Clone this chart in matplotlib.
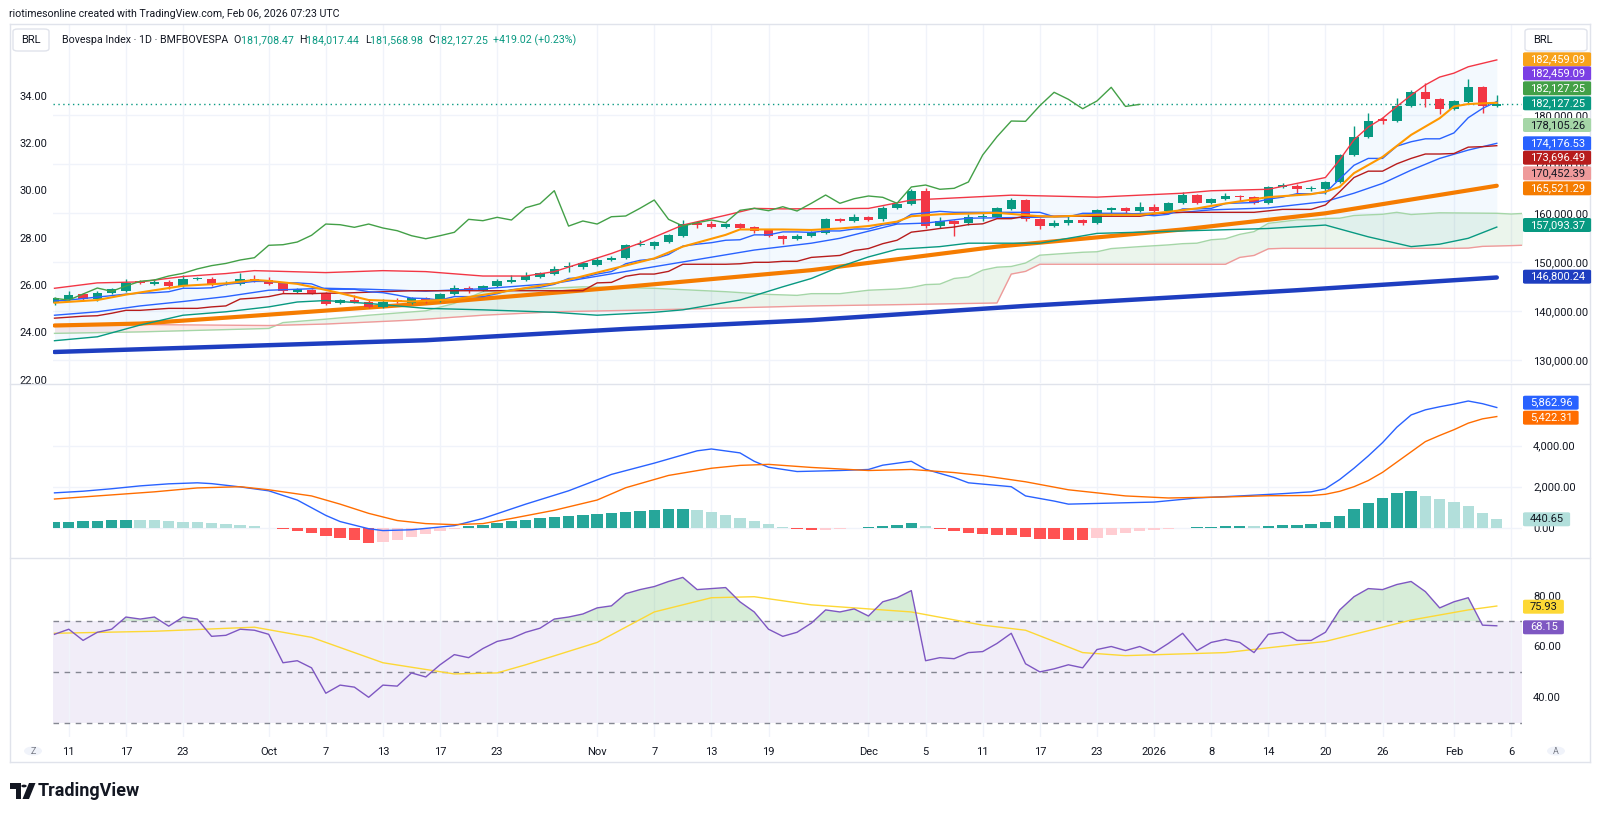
import numpy as np
import matplotlib
matplotlib.use("Agg")
import matplotlib.pyplot as plt
from matplotlib.patches import FancyBboxPatch, Circle, Polygon
from matplotlib.lines import Line2D

plt.rcParams['font.family'] = ['Roboto', 'DejaVu Sans']

# ---------------- data ----------------
date_labels = ['11', '17', '23', 'Oct', '7', '13', '17', '23', 'Nov', '7', '13', '19',
               'Dec', '5', '11', '17', '23', '2026', '8', '14', '20', '26', 'Feb', '6']
date_bars = [1, 5, 9, 15, 19, 23, 27, 31, 38, 42, 46, 50, 57, 61, 65, 69, 73, 77, 81, 85, 89, 93, 98, 102]

# daily candles, thousands of points (Sep 10 2025 .. Feb 5 2026)
opens = [141.53, 142.35, 143.37, 142.35, 143.71, 144.04, 146.02, 145.41, 145.94, 145.12,
         146.43, 146.55, 145.47, 145.47, 146.43, 146.29, 145.61, 143.90, 144.24, 143.69,
         141.53, 142.20, 141.80, 140.84, 142.20, 141.53, 142.69, 142.02, 143.43, 144.65,
         144.27, 145.00, 145.82, 146.35, 146.92, 147.51, 148.88, 148.86, 149.41, 150.43,
         150.71, 153.37, 153.22, 154.04, 155.33, 157.86, 157.71, 157.10, 157.71, 157.04,
         156.49, 155.33, 154.71, 155.27, 155.82, 158.73, 158.39, 159.08, 158.67, 161.04,
         161.73, 164.51, 157.29, 158.39, 157.86, 159.08, 159.20, 160.71, 162.55, 158.73,
         157.31, 157.86, 158.53, 157.98, 160.51, 160.98, 160.43, 161.24, 160.43, 161.94,
         163.63, 161.94, 162.82, 163.49, 163.16, 161.94, 165.20, 165.53, 164.80, 164.80,
         166.35, 171.80, 175.53, 179.08, 178.73, 181.86, 184.59, 183.16, 181.24, 182.67,
         185.61, 181.708]
highs = [142.90, 144.04, 143.60, 144.10, 144.71, 146.49, 146.30, 146.57, 146.20, 147.24,
         146.90, 146.80, 146.14, 147.65, 147.30, 146.82, 145.90, 144.73, 144.50, 143.90,
         142.50, 143.22, 142.33, 142.33, 142.55, 142.80, 142.90, 143.70, 145.27, 145.06,
         145.30, 146.43, 147.31, 147.98, 147.98, 149.16, 149.96, 149.90, 150.98, 151.10,
         153.60, 154.45, 154.30, 155.60, 158.53, 158.10, 158.39, 157.95, 157.95, 157.30,
         156.70, 155.50, 155.60, 156.30, 158.90, 159.00, 159.76, 159.30, 161.30, 162.10,
         164.80, 165.00, 159.20, 158.60, 159.76, 160.22, 161.24, 163.08, 162.80, 158.90,
         158.53, 159.55, 158.70, 160.80, 161.10, 161.20, 162.20, 161.80, 162.20, 164.18,
         163.90, 163.10, 164.10, 163.70, 163.40, 165.50, 166.14, 165.80, 165.47, 166.50,
         172.00, 177.71, 180.43, 179.61, 183.37, 185.06, 186.43, 183.49, 183.00, 187.24,
         185.80, 184.017]
lows = [141.20, 142.10, 142.00, 142.10, 143.50, 143.80, 145.40, 145.20, 144.39, 144.90,
        146.20, 145.10, 145.30, 145.30, 145.88, 145.20, 143.71, 143.70, 143.40, 141.10,
        141.30, 141.60, 140.50, 140.60, 141.60, 141.30, 141.67, 141.73, 143.20, 143.70,
        144.00, 144.80, 145.60, 146.10, 146.70, 147.30, 147.86, 148.60, 149.20, 150.20,
        150.50, 153.20, 152.55, 153.80, 155.10, 156.84, 156.80, 156.84, 156.70, 155.94,
        155.10, 153.63, 154.50, 155.00, 155.60, 158.20, 158.20, 158.30, 158.40, 160.80,
        161.50, 157.00, 157.00, 155.27, 157.60, 158.39, 159.00, 160.50, 158.40, 156.63,
        157.10, 157.60, 157.51, 157.70, 159.55, 159.76, 160.20, 160.10, 160.20, 161.70,
        161.70, 161.70, 162.60, 162.41, 161.70, 161.70, 165.00, 164.10, 164.45, 163.84,
        166.10, 171.60, 175.30, 178.12, 178.50, 181.60, 181.65, 180.16, 181.00, 182.40,
        180.43, 181.569]
closes = [142.55, 143.29, 142.35, 143.69, 144.39, 145.67, 145.61, 145.94, 145.06, 146.49,
          146.63, 145.33, 145.73, 146.49, 146.08, 145.47, 143.98, 144.39, 143.69, 141.39,
          142.20, 141.80, 140.71, 141.86, 141.86, 142.55, 142.20, 143.43, 144.65, 143.98,
          145.06, 146.02, 146.29, 147.10, 147.65, 148.55, 149.22, 149.67, 150.37, 150.84,
          153.37, 153.49, 154.04, 155.41, 157.71, 157.57, 157.04, 157.71, 156.90, 156.35,
          155.33, 154.71, 155.33, 156.02, 158.67, 158.39, 159.08, 158.53, 161.04, 161.86,
          164.51, 157.29, 158.33, 157.71, 159.20, 159.35, 160.92, 162.61, 158.67, 157.31,
          157.98, 158.53, 157.98, 160.51, 160.92, 160.43, 161.24, 160.37, 161.94, 163.63,
          161.94, 162.88, 163.43, 163.16, 161.94, 165.27, 165.67, 164.80, 165.00, 166.29,
          171.80, 175.53, 178.73, 178.67, 181.86, 184.59, 183.16, 181.24, 182.82, 185.61,
          181.708, 182.127]

# Ichimoku conversion / base lines (per bar, thousands)
conv = [142.0, 142.2, 142.5, 142.8, 143.1, 143.4, 143.6, 143.7, 143.9, 144.6,
        144.6, 144.7, 145.4, 145.7, 146.0, 146.0, 145.7, 145.7, 145.5, 144.4,
        144.4, 144.4, 143.9, 143.7, 143.2, 142.6, 142.5, 142.2, 142.9, 142.9,
        142.9, 143.5, 144.3, 144.6, 144.8, 145.4, 146.6, 146.8, 147.5, 148.0,
        149.6, 150.3, 150.6, 151.5, 153.2, 153.6, 153.9, 154.4, 154.5, 155.5,
        155.5, 156.1, 156.1, 156.0, 156.3, 156.3, 156.7, 156.7, 157.5, 157.9,
        159.7, 160.0, 160.3, 160.1, 160.1, 160.1, 160.1, 160.1, 160.1, 160.1,
        159.2, 159.2, 159.9, 159.9, 159.9, 159.9, 159.7, 159.4, 159.7, 160.8,
        160.8, 160.9, 161.9, 162.0, 162.1, 162.8, 163.2, 163.9, 163.9, 164.1,
        166.9, 169.7, 171.1, 171.1, 173.6, 174.5, 175.1, 175.1, 176.3, 179.4,
        181.3, 182.7]
base = [138.5, 138.7, 138.9, 139.0, 139.5, 140.1, 140.1, 140.3, 140.5, 140.5,
        140.5, 140.8, 141.0, 142.4, 142.6, 142.9, 143.5, 143.5, 143.5, 143.6,
        143.6, 143.7, 143.8, 143.9, 144.0, 144.1, 144.1, 144.1, 144.1, 144.1,
        144.1, 144.1, 144.1, 144.1, 144.1, 144.1, 144.1, 144.1, 145.7, 145.8,
        147.05, 147.5, 147.5, 148.05, 149.5, 149.5, 149.5, 149.5, 149.6, 149.9,
        149.9, 150.1, 150.1, 150.9, 151.1, 151.3, 152.3, 152.7, 153.7, 154.4,
        156.05, 156.4, 156.8, 157.1, 157.6, 157.75, 158.8, 158.8, 159.3, 159.3,
        159.3, 159.3, 159.3, 159.3, 159.3, 159.3, 159.3, 159.75, 160.0, 160.1,
        160.1, 160.1, 160.1, 160.1, 160.1, 160.4, 160.7, 160.7, 160.7, 161.6,
        164.3, 167.2, 168.5, 168.5, 170.0, 171.1, 172.0, 172.0, 172.1, 173.4,
        173.5, 173.7]

# leading spans (bar position, thousands) - already displaced forward
span_a_x = [0, 6, 15, 16, 19, 22, 26, 28, 30, 33, 37, 42, 47, 50, 52, 53, 55, 57, 59, 60,
            61, 62, 63, 64, 65, 66, 67, 68, 69, 70, 72, 73, 74, 76, 78, 79, 80, 81, 82, 83,
            84, 85, 86, 87, 88, 89, 90, 91, 93, 94, 95, 97, 101, 102, 103]
span_a = [135.4, 135.7, 136.4, 137.6, 138.3, 139.1, 140.0, 141.5, 143.9, 144.4,
          144.9, 144.6, 143.9, 143.35, 143.15, 143.5, 143.5, 144.2, 144.45, 144.75,
          145.35, 145.45, 146.6, 146.9, 148.3, 148.9, 149.05, 149.75, 151.35, 151.55,
          151.95, 152.05, 152.7, 153.1, 153.45, 153.7, 153.8, 154.5, 154.7, 155.6,
          156.15, 157.85, 158.2, 158.55, 158.6, 158.85, 158.9, 159.45, 159.7, 160.1,
          159.65, 160.0, 159.9, 159.75, 159.9]
span_b_x = [0, 6, 15, 19, 22, 25, 30, 35, 42, 53, 60, 66, 67, 68, 69, 82, 83, 84, 85, 86,
            98, 99, 100, 102, 103]
span_b = [137.2, 137.2, 137.0, 137.3, 137.7, 138.1, 139.1, 139.8, 140.2, 141.0,
          141.3, 141.6, 147.5, 148.05, 149.5, 149.5, 150.9, 151.3, 152.65, 152.75,
          152.75, 152.8, 153.15, 153.3, 153.4]

# Bollinger bands
bb_up_x = [0, 3, 6, 9, 12, 14, 19, 23, 26, 30, 33, 35, 39, 41, 44, 47, 49, 51, 57, 60,
           67, 73, 79, 81, 85, 89, 90, 91, 92, 93, 94, 95, 96, 97, 98, 99, 100, 101]
bb_up = [144.6, 145.7, 145.9, 147.0, 147.6, 148.2, 147.8, 148.2, 148.0, 147.1,
         147.1, 148.0, 151.7, 153.8, 157.5, 159.5, 160.9, 160.8, 160.9, 162.6,
         163.6, 163.2, 164.0, 164.5, 164.8, 167.2, 170.8, 174.9, 177.5, 179.3,
         181.7, 184.0, 186.1, 187.7, 188.5, 189.8, 190.5, 191.2]
bb_mid_x = [0, 3, 6, 9, 12, 15, 19, 22, 26, 30, 35, 42, 49, 53, 55, 59, 61, 64, 69, 73,
            79, 81, 85, 89, 91, 93, 95, 97, 99, 101]
bb_mid = [139.1, 139.8, 141.0, 141.9, 142.9, 144.2, 144.6, 144.4, 144.0, 144.5,
          145.6, 149.0, 152.4, 153.8, 154.8, 157.7, 157.9, 158.9, 159.1, 159.6,
          160.1, 160.6, 161.0, 162.3, 164.0, 166.0, 168.7, 171.1, 172.8, 174.18]
bb_lo_x = [0, 3, 6, 9, 12, 15, 17, 19, 22, 26, 30, 35, 38, 42, 44, 48, 51, 53, 55, 57,
           59, 62, 64, 69, 73, 79, 85, 89, 92, 95, 97, 99, 101]
bb_lo = [133.9, 134.7, 137.1, 139.1, 139.8, 140.8, 141.8, 142.1, 141.5, 140.5,
         140.2, 139.7, 139.1, 139.7, 140.2, 142.2, 144.9, 146.6, 149.0, 151.0,
         152.55, 153.1, 153.8, 153.8, 155.8, 156.3, 156.8, 157.5, 155.1, 153.1,
         153.6, 154.8, 157.09]

# moving averages
ma9_x = [0, 3, 5, 9, 12, 14, 15, 17, 18, 20, 22, 25, 28, 31, 35, 38, 42, 44, 47, 48,
         51, 53, 55, 57, 59, 60, 62, 66, 69, 70, 73, 76, 78, 80, 82, 85, 88, 89, 90, 91,
         93, 95, 97, 98, 99, 101]
ma9 = [141.65, 142.2, 143.3, 145.1, 145.6, 146.3, 146.1, 145.5, 144.9, 143.6,
       142.2, 141.9, 142.35, 143.7, 145.6, 147.8, 150.7, 153.1, 155.5, 156.6,
       156.6, 156.5, 156.8, 157.3, 158.2, 159.3, 159.7, 160.0, 159.3, 159.2,
       159.6, 159.6, 160.2, 160.9, 161.9, 163.2, 163.8, 164.3, 165.3, 168.1,
       171.4, 175.9, 179.3, 181.7, 182.2, 182.46]
ma50_x = [0, 6, 13, 26, 40, 53, 66, 79, 89, 101]
ma50 = [137.0, 137.4, 138.8, 141.5, 144.9, 148.3, 153.1, 156.6, 159.9, 165.52]
ma200_x = [0, 26, 40, 53, 68, 87, 101]
ma200 = [131.6, 134.0, 136.3, 138.1, 141.0, 144.2, 146.8]

# MACD pane
macd_x = [0, 2, 4, 6, 8, 10, 11, 13, 15, 17, 19, 20, 22, 23, 25, 28, 30, 33, 36, 39,
          42, 45, 46, 48, 49, 50, 52, 55, 57, 58, 60, 61, 63, 64, 67, 68, 70, 71, 74, 77,
          80, 83, 86, 88, 89, 90, 91, 92, 93, 94, 95, 96, 97, 98, 99, 100, 101]
macd = [1700, 1780, 1900, 2040, 2140, 2190, 2150, 1990, 1800, 1350,
        600, 300, -50, -140, -100, 100, 450, 1150, 1800, 2600,
        3150, 3750, 3840, 3650, 3240, 2950, 2740, 2790, 2840, 3050,
        3240, 2850, 2450, 2190, 2000, 1550, 1300, 1150, 1200, 1250,
        1450, 1550, 1660, 1750, 1900, 2350, 2900, 3500, 4150, 4900,
        5500, 5750, 5900, 6030, 6180, 6050, 5862.96]
signal_x = [0, 3, 7, 10, 13, 15, 18, 20, 22, 24, 26, 28, 30, 32, 35, 38, 40, 43, 46, 48,
            50, 53, 57, 60, 63, 65, 68, 71, 75, 78, 82, 85, 88, 89, 90, 91, 92, 93, 94, 95,
            96, 97, 98, 99, 100, 101]
signal = [1400, 1550, 1750, 1940, 2000, 1850, 1550, 1150, 700, 350,
          200, 150, 200, 450, 850, 1350, 1950, 2550, 2900, 3040,
          3090, 2940, 2790, 2840, 2690, 2540, 2240, 1850, 1550, 1450,
          1500, 1560, 1570, 1630, 1775, 2000, 2300, 2700, 3200, 3700,
          4200, 4500, 4780, 5100, 5310, 5422.31]
hist = [300, 300, 320, 350, 370, 400, 390, 360, 330, 300,
        260, 210, 160, 110, 60, 10, -70, -170, -280, -400,
        -500, -600, -750, -700, -600, -470, -330, -180, -50, 60,
        150, 240, 320, 400, 460, 520, 570, 620, 670, 720,
        780, 830, 860, 890, 910, 880, 780, 640, 480, 320,
        170, 40, -70, -130, -120, -80, -30, 30, 90, 150,
        210, 100, -40, -150, -250, -300, -340, -380, -470, -540,
        -570, -600, -610, -500, -380, -270, -180, -110, -50, 0,
        30, 50, 60, 70, 60, 90, 120, 150, 190, 270,
        575, 900, 1200, 1450, 1700, 1800, 1550, 1400, 1250, 1080,
        740, 440.65]

# RSI pane
rsi = [64.8, 66.8, 62.4, 65.6, 66.8, 71.6, 70.8, 71.6, 68.0, 71.6,
       70.8, 64.0, 64.4, 66.8, 66.4, 64.8, 53.6, 54.4, 51.6, 41.6,
       44.8, 44.0, 40.0, 44.8, 44.4, 49.6, 48.0, 52.8, 56.8, 55.6,
       59.2, 62.0, 63.2, 65.6, 67.2, 70.8, 71.6, 72.8, 75.2, 76.0,
       80.8, 82.4, 83.6, 85.6, 87.2, 82.4, 82.8, 83.2, 77.6, 73.6,
       66.8, 64.0, 65.6, 69.2, 74.4, 73.6, 74.8, 72.0, 77.6, 79.2,
       82.0, 54.4, 55.6, 55.2, 57.6, 58.0, 61.2, 65.2, 53.2, 50.0,
       51.2, 52.8, 51.6, 58.8, 60.0, 58.4, 60.0, 57.6, 61.2, 65.2,
       58.4, 61.6, 62.8, 61.6, 57.6, 64.8, 65.6, 62.4, 62.4, 65.6,
       74.4, 79.6, 82.8, 82.4, 84.4, 85.6, 81.6, 75.2, 77.6, 79.2,
       68.4, 68.15]
rsi_ma_x = [0, 7, 14, 18, 23, 28, 31, 33, 38, 42, 46, 49, 53, 60, 65, 68, 72, 75, 82, 89,
            95, 99, 101]
rsi_ma = [65.2, 66.0, 67.6, 63.6, 53.6, 49.2, 49.6, 52.8, 61.6, 73.6, 79.2, 79.6, 76.4,
          73.6, 68.4, 66.4, 57.6, 56.4, 57.6, 62.0, 70.4, 74.4, 75.93]

# ---------------- layout ----------------
W, H = 1600, 817
fig = plt.figure(figsize=(W / 100, H / 100), dpi=100)
fig.patch.set_facecolor('white')


def fr(x0, y0, x1, y1):
    return [x0 / W, 1 - y1 / H, (x1 - x0) / W, (y1 - y0) / H]


PX0, PX1 = 53, 1522
BAR0, STEP = 54.5, 14.28
XL = ((PX0 - BAR0) / STEP, (PX1 - BAR0) / STEP)
K = 1000.0
TXT = '#131722'
GRID = '#F0F3FA'

ax = fig.add_axes(fr(PX0, 24, PX1, 383))
axm = fig.add_axes(fr(PX0, 384, PX1, 557))
axr = fig.add_axes(fr(PX0, 558, PX1, 737))

# left scale of the main pane (second symbol scale)
axl = ax.twinx()
axl.set_ylim(21.86, 37.04)
axl.set_yticks(np.arange(22, 36, 2))
axl.set_yticklabels([f'{v:.2f}' for v in np.arange(22, 36, 2)])
axl.yaxis.tick_left()
axl.tick_params(axis='y', length=0, pad=4, labelsize=8, labelcolor=TXT)
for s in axl.spines.values():
    s.set_visible(False)

for a in (ax, axm, axr):
    a.set_xlim(*XL)
    a.set_xticks(date_bars)
    a.grid(True, color=GRID, lw=1, zorder=0)
    a.set_axisbelow(True)
    for s in a.spines.values():
        s.set_visible(False)
    a.yaxis.tick_right()
    a.tick_params(axis='y', length=0, pad=8, labelsize=8, labelcolor=TXT)
    a.tick_params(axis='x', length=0, labelsize=8, labelcolor=TXT)
ax.set_xticklabels([])
axm.set_xticklabels([])
axr.set_xticklabels(date_labels)
axr.tick_params(axis='x', pad=7)

# ---------- main pane ----------
ax.set_ylim(125270, 198530)
ticks = np.arange(130000, 190000, 10000)
ax.set_yticks(ticks)
ax.set_yticklabels([f'{v:,.2f}' for v in ticks])

x = np.arange(len(closes))
o = np.array(opens) * K
h = np.array(highs) * K
l = np.array(lows) * K
c = np.array(closes) * K

# Ichimoku cloud
cx = np.linspace(0, 103, 1031)
sa = np.interp(cx, span_a_x, np.array(span_a) * K)
sb = np.interp(cx, span_b_x, np.array(span_b) * K)
ax.fill_between(cx, sa, sb, where=sa >= sb, interpolate=True, color='#43A047', alpha=0.10, lw=0, zorder=1)
ax.fill_between(cx, sa, sb, where=sa < sb, interpolate=True, color='#F44336', alpha=0.10, lw=0, zorder=1)
ax.plot(span_a_x, np.array(span_a) * K, color='#A5D6A7', lw=1, zorder=2)
ax.plot(span_b_x, np.array(span_b) * K, color='#EF9A9A', lw=1, zorder=2)

# Bollinger fill + bands
bu = np.interp(x, bb_up_x, np.array(bb_up) * K)
bl = np.interp(x, bb_lo_x, np.array(bb_lo) * K)
ax.fill_between(x, bl, bu, color='#2196F3', alpha=0.05, lw=0, zorder=1)
ax.plot(bb_up_x, np.array(bb_up) * K, color='#F23645', lw=1, zorder=6)
ax.plot(bb_lo_x, np.array(bb_lo) * K, color='#089981', lw=1, zorder=6)
ax.plot(bb_mid_x, np.array(bb_mid) * K, color='#2962FF', lw=1, zorder=6)

# long averages
ax.plot(ma200_x, np.array(ma200) * K, color='#1E3EC0', lw=3.2, solid_capstyle='round', zorder=3)
ax.plot(ma50_x, np.array(ma50) * K, color='#F57C00', lw=3.0, solid_capstyle='round', zorder=3)

# last price line
ax.axhline(c[-1], color='#089981', lw=1, ls=(0, (1, 2.5)), zorder=2)

# candles
col = np.where(c >= o, '#089981', '#F23645')
ax.vlines(x, l, h, colors=col, lw=1, zorder=4)
ax.bar(x, np.maximum(np.abs(c - o), 200), bottom=np.minimum(o, c), width=0.66, color=col, lw=0, zorder=5)

# Ichimoku lines, lagging span, short average
ax.plot(x, np.array(base) * K, color='#B71C1C', lw=1, zorder=6)
ax.plot(x, np.array(conv) * K, color='#2962FF', lw=1, zorder=6)
ax.plot(x[:-25], c[25:], color='#43A047', lw=1, zorder=6)
ax.plot(ma9_x, np.array(ma9) * K, color='#FF9800', lw=1.5, zorder=6)

# ---------- MACD pane ----------
axm.set_ylim(-1429, 7010)
axm.set_yticks([0, 2000, 4000])
axm.set_yticklabels(['0.00', '2,000.00', '4,000.00'])
hv = np.array(hist)
prev = np.concatenate([[hv[0]], hv[:-1]])
hcol = np.where(hv >= 0, np.where(hv >= prev, '#26A69A', '#B2DFDB'),
                np.where(hv > prev, '#FFCDD2', '#FF5252'))
axm.bar(x, hv, width=0.8, color=hcol, lw=0, zorder=2)
axm.plot(macd_x, macd, color='#2962FF', lw=1, zorder=3)
axm.plot(signal_x, signal, color='#FF6D00', lw=1, zorder=3)

# ---------- RSI pane ----------
axr.set_ylim(24.37, 94.84)
axr.set_yticks([40, 60, 80])
axr.set_yticklabels(['40.00', '60.00', '80.00'])
axr.grid(False, axis='y')
axr.axhspan(30, 70, color='#7E57C2', alpha=0.10, lw=0, zorder=0)
for lev in (70, 50, 30):
    axr.axhline(lev, color='#787B86', lw=1, ls=(0, (4, 4)), alpha=0.9, zorder=1)
rv = np.array(rsi)
rx = np.linspace(0, len(rv) - 1, 1011)
ri = np.interp(rx, x, rv)
axr.fill_between(rx, 70, ri, where=ri > 70, interpolate=True, color='#4CAF50', alpha=0.22, lw=0, zorder=1)
axr.plot(rsi_ma_x, rsi_ma, color='#FDD835', lw=1, zorder=2)
axr.plot(x, rv, color='#7E57C2', lw=1, zorder=3)


# ---------- frame, separators ----------
def fline(x0, y0, x1, y1, color='#E0E3EB'):
    fig.add_artist(Line2D([x0 / W, x1 / W], [1 - y0 / H, 1 - y1 / H], color=color, lw=1,
                          transform=fig.transFigure, zorder=15))


fline(10, 24, 1590, 24)
fline(10, 762, 1590, 762)
fline(10, 24, 10, 762)
fline(1590, 24, 1590, 762)
fline(10, 383.5, 1590, 383.5)
fline(10, 557.5, 1590, 557.5)

rend = fig.canvas.get_renderer()


def tag(y_px, text, bg, fg):
    t = fig.text(1530 / W, 1 - y_px / H, text, fontsize=8, color=fg, va='center', ha='left', zorder=21)
    bb = t.get_window_extent(rend)
    fig.add_artist(FancyBboxPatch((1523 / W, 1 - (y_px + 7) / H), (bb.width + 13) / W, 14 / H,
                                  boxstyle='round,pad=0,rounding_size=0.0015',
                                  transform=fig.transFigure, fc=bg, ec='none', zorder=20))


main_tags = [(59.3, '182,459.09', '#F7A21B', 'white'), (73.3, '182,459.09', '#7B3FE4', 'white'),
             (88.3, '182,127.25', '#43A047', 'white'), (103.3, '182,127.25', '#089981', 'white'),
             (125, '178,105.26', '#A5D6A7', TXT), (143.3, '174,176.53', '#2962FF', 'white'),
             (157.7, '173,696.49', '#B71C1C', 'white'), (173.3, '170,452.39', '#EF9A9A', TXT),
             (188.3, '165,521.29', '#F57C00', 'white'), (225, '157,093.37', '#089981', 'white'),
             (276.7, '146,800.24', '#1E3EC0', 'white'),
             (402.7, '5,862.96', '#2962FF', 'white'), (417.7, '5,422.31', '#FF6D00', 'white'),
             (519.3, '440.65', '#B2DFDB', TXT),
             (606.7, '75.93', '#FDD835', TXT), (627.3, '68.15', '#7E57C2', 'white')]
for t in main_tags:
    tag(*t)

# BRL boxes
for bx0, bx1 in ((13, 49), (1525, 1587)):
    fig.add_artist(FancyBboxPatch((bx0 / W, 1 - 51 / H), (bx1 - bx0) / W, 22 / H,
                                  boxstyle='round,pad=0,rounding_size=0.003', transform=fig.transFigure,
                                  fc='white', ec='#E0E3EB', lw=1, zorder=20))
    fig.text((bx0 + 8) / W, 1 - 40 / H, 'BRL', fontsize=8, color=TXT, va='center', ha='left', zorder=21)

# header
fig.text(9 / W, 1 - 14 / H, 'riotimesonline created with TradingView.com, Feb 06, 2026 07:23 UTC',
         fontsize=7.7, color=TXT, va='center', ha='left')
teal = '#089981'
parts = [('Bovespa Index · 1D · BMFBOVESPA  ', TXT), ('O', TXT), ('181,708.47  ', teal), ('H', TXT),
         ('184,017.44  ', teal), ('L', TXT), ('181,568.98  ', teal), ('C', TXT), ('182,127.25  ', teal),
         ('+419.02 (+0.23%)', teal)]
xp = 62
for s, cc in parts:
    t = fig.text(xp / W, 1 - 40 / H, s, fontsize=7.7, color=cc, va='center', ha='left', zorder=21)
    xp += t.get_window_extent(rend).width

# corner buttons
for cxp, letter in ((33, 'Z'), (1556, 'A')):
    fig.add_artist(Circle((cxp / W, 1 - 751 / H), 9 / W, transform=fig.transFigure,
                          fc='#F0F3FA', ec='none', zorder=20))
    fig.text(cxp / W, 1 - 751 / H, letter, fontsize=6.5, color='#787B86', ha='center', va='center', zorder=21)


# logo mark + word
def fp(px, py):
    return (px / W, 1 - py / H)


fig.add_artist(Polygon([fp(10, 783), fp(21, 783), fp(21, 799), fp(15.5, 799), fp(15.5, 788.5), fp(10, 788.5)],
                       closed=True, transform=fig.transFigure, fc=TXT, ec='none'))
fig.add_artist(Circle(fp(24, 786), 2.7 / W, transform=fig.transFigure, fc=TXT, ec='none'))
fig.add_artist(Polygon([fp(29, 783), fp(35.5, 783), fp(29, 799), fp(22.5, 799)],
                       closed=True, transform=fig.transFigure, fc=TXT, ec='none'))
fig.text(38 / W, 1 - 791 / H, 'TradingView', fontsize=13, fontweight='bold', color=TXT, va='center', ha='left')

fig.savefig('out.png', dpi=100, facecolor='white')
